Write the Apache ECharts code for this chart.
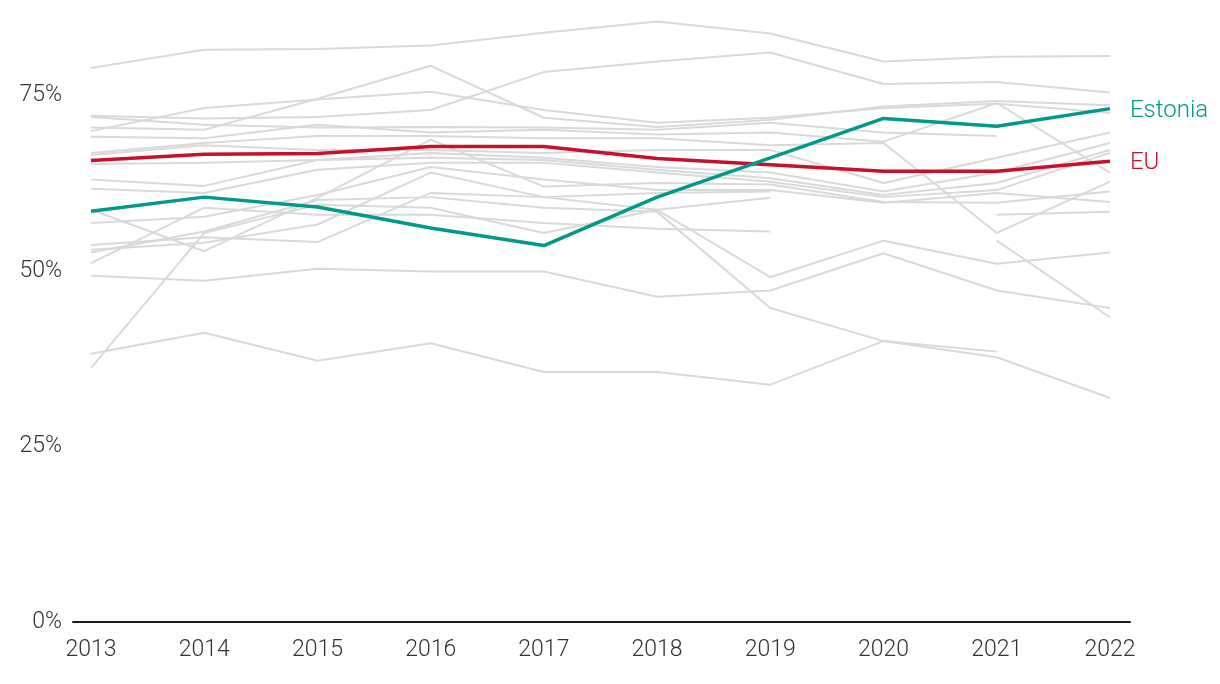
<!DOCTYPE html>
<html>
<head>
<meta charset="utf-8">
<script src="https://cdn.jsdelivr.net/npm/echarts@6/dist/echarts.min.js"></script>
<style>
html,body{margin:0;padding:0;background:#fff;}
#chart{width:1220px;height:684px;}
</style>
</head>
<body>
<div id="chart"></div>
<script>
const years = [2013, 2014, 2015, 2016, 2017, 2018, 2019, 2020, 2021, 2022];
const yTicks = [0, 25, 50, 75];

const estonia = [58.5, 60.5, 59.1, 56.1, 53.6, 60.5, 66.1, 71.7, 70.6, 73.1];
const eu      = [65.7, 66.6, 66.7, 67.7, 67.7, 66.0, 65.1, 64.2, 64.2, 65.6];

const greyA = [78.9, 81.5, 81.6, 82.1, 83.9, 85.5, 83.8, 79.8, 80.5, 80.6];
const greyB = [72.1, 71.7, 71.9, 72.9, 78.3, 79.8, 81.1, 76.6, 76.9, 75.4];
const greyC = [70.4, 70.1, 74.5, 79.2, 71.8, 70.5, 71.5, 73.4, 74.2, 73.6];
const greyD = [69.9, 73.2, 74.4, 75.5, 72.9, 71.1, 71.8, 73.2, 73.8, 72.5];
const greyE = [71.9, 70.8, 70.4, 70.5, 70.4, 70.1, 71.1, 69.7, 69.2, null];
const greyF = [69.1, 68.9, 70.8, 69.7, 70.1, 69.4, 69.7, 68.4, 73.9, 64.0];
const greyG = [66.8, 68.2, 69.2, 69.2, 68.9, 68.9, 67.9, 68.2, 55.4, 62.7];
const greyH = [66.5, 67.9, 67.2, 67.2, 66.8, 67.2, 67.2, 62.5, 66.1, 69.7];
const greyI = [65.2, 65.4, 65.8, 66.8, 66.1, 64.8, 64.0, 61.3, 64.0, 68.2];
const greyJ = [63.0, 62.1, 65.8, 66.1, 65.8, 64.4, 63.2, 60.8, 62.5, 67.2];
const greyK = [61.7, 61.1, 64.4, 65.4, 65.4, 64.0, 62.7, 60.5, 61.5, 66.8];
const greyL = [58.7, 52.8, 60.4, 68.7, 62.0, 62.5, 62.3, 59.8, 59.7, 61.3];
const greyM = [56.8, 57.7, 60.8, 64.8, 63.0, 61.5, 61.5, 59.7, 61.1, 59.8];
const greyN = [53.7, 54.8, 54.1, 61.1, 60.5, 58.7, 49.1, 54.3, 51.0, 52.6];
const greyO = [53.0, 54.0, 56.6, 64.0, 60.5, 61.1, 61.3, null, null, null];
const greyP = [52.6, 55.6, 60.1, 60.5, 59.0, 58.4, 44.7, 40.0, 37.7, 31.9];
const greyQ = [51.1, 59.0, 58.0, 58.0, 56.8, 56.0, 55.6, null, null, null];
const greyR = [49.3, 48.6, 50.3, 49.9, 49.9, 46.3, 47.2, 52.5, 47.2, 44.7];
const greyS = [38.2, 41.2, 37.2, 39.7, 35.6, 35.6, 33.8, 40.0, 38.5, null];
const greyT = [36.2, 55.4, 59.4, 59.0, 55.4, 58.7, 60.4, null, null, null];
const greyU = [null, null, null, null, null, null, null, null, 58.0, 58.4];
const greyV = [null, null, null, null, null, null, null, null, 54.3, 43.4];

const greyLines = [greyA, greyB, greyC, greyD, greyE, greyF, greyG, greyH, greyI, greyJ, greyK,
                   greyL, greyM, greyN, greyO, greyP, greyQ, greyR, greyS, greyT, greyU, greyV];

const toPairs = arr => years.map((y, i) => [y, arr[i]]);
const FONT = 'Roboto';

const series = greyLines.map((arr, i) => ({
  type: 'line',
  name: 'g' + i,
  data: toPairs(arr),
  showSymbol: false,
  symbol: 'none',
  connectNulls: false,
  lineStyle: { color: '#d9d9d9', width: 2 },
  z: 2,
  silent: true
}));

function mainSeries(name, arr, color) {
  return {
    type: 'line',
    name: name,
    data: toPairs(arr),
    symbol: 'none',
    lineStyle: { color: color, width: 3.5 },
    z: 5,
    endLabel: {
      show: true,
      formatter: name,
      color: color,
      fontFamily: FONT,
      fontWeight: 300,
      fontSize: 24,
      distance: 20,
      offset: [0, 2]
    }
  };
}
series.push(mainSeries('EU', eu, '#c8102e'));
series.push(mainSeries('Estonia', estonia, '#00998a'));

const chart = echarts.init(document.getElementById('chart'), null, { renderer: 'canvas' });
chart.setOption({
  animation: false,
  backgroundColor: '#ffffff',
  grid: { left: 73, right: 90, top: 4, bottom: 62, containLabel: false },
  xAxis: {
    type: 'value',
    min: 2012.841,
    max: 2022.177,
    axisLine: { show: true, lineStyle: { color: '#1a1a1a', width: 2 } },
    axisTick: { show: false },
    splitLine: { show: false },
    axisLabel: {
      customValues: years,
      formatter: v => String(v),
      color: '#333',
      fontFamily: FONT,
      fontWeight: 300,
      fontSize: 23,
      margin: 17
    }
  },
  yAxis: {
    type: 'value',
    min: 0,
    max: 88,
    interval: 25,
    axisLine: { show: false },
    axisTick: { show: false },
    splitLine: { show: false },
    axisLabel: {
      customValues: yTicks,
      formatter: v => (v % 25 === 0 ? v + '%' : ''),
      color: '#333',
      fontFamily: FONT,
      fontWeight: 300,
      fontSize: 23,
      margin: 11,
      padding: [8, 0, 0, 0]
    }
  },
  series: series
});
</script>
</body>
</html>
